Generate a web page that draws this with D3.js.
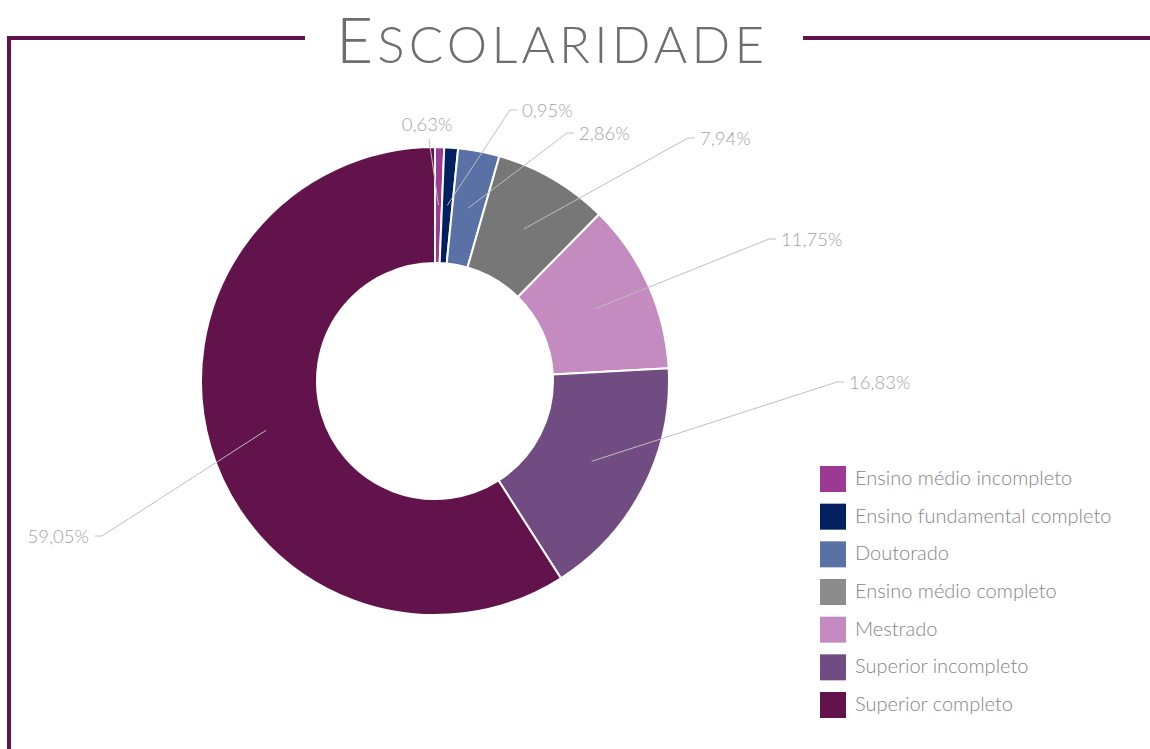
<!DOCTYPE html>
<html>
<head>
<meta charset="utf-8">
<script src="https://cdn.jsdelivr.net/npm/d3@7"></script>
<style>
  body { margin: 0; background: #fff; }
  svg { display: block; font-family: Lato, "Open Sans", sans-serif; }
</style>
</head>
<body>
<svg id="chart" width="1150" height="749"></svg>
<script>
// data, in drawing order (clockwise from 12 o'clock)
var categories = ["Ensino médio incompleto", "Ensino fundamental completo", "Doutorado",
  "Ensino médio completo", "Mestrado", "Superior incompleto", "Superior completo"];
var percents = [0.63, 0.95, 2.86, 7.94, 11.75, 16.83, 59.05];
var labels = ["0,63%", "0,95%", "2,86%", "7,94%", "11,75%", "16,83%", "59,05%"];

var colors = ["#9b3995", "#002060", "#5a71a6", "#777777", "#c48bc0", "#714c82", "#63134b"];
var legendColors = ["#9b3995", "#002060", "#5a71a6", "#8c8c8c", "#c48bc0", "#714c82", "#63134b"];

// where the leader lines end, relative to the centre, and which side the text sits on
var labelEnds = [[-6, -242], [75, -271], [132, -248], [253, -243], [334, -142], [402, 1], [-333, 155]];
var labelSide = ["top", "right", "right", "right", "right", "right", "left"];

var svg = d3.select('#chart');
var frameColor = "#63134b";

// frame lines round the title
svg.append("path")
  .attr("d", "M9,749 V38 H305")
  .style("fill", "none").style("stroke", frameColor).style("stroke-width", 4);
svg.append("line")
  .attr("x1", 803).attr("x2", 1150).attr("y1", 38).attr("y2", 38)
  .style("stroke", frameColor).style("stroke-width", 4);

// title in small caps
var title = svg.append("text")
  .attr("x", 336).attr("y", 63)
  .attr("textLength", 428).attr("lengthAdjust", "spacing")
  .style("fill", "#6e6e6e").style("font-weight", 300);
title.append("tspan").style("font-size", "64px").text("E");
title.append("tspan").style("font-size", "51px").text("SCOLARIDADE");

// donut
var cx = 435, cy = 381, rOuter = 234, rInner = 118;
var g = svg.append("g").attr("transform", "translate(" + cx + "," + cy + ")");

var pie = d3.pie().sort(null).value(function(d) { return d; });
var arcs = pie(percents);
var arc = d3.arc().innerRadius(rInner).outerRadius(rOuter);
var midArc = d3.arc().innerRadius((rInner + rOuter) / 2).outerRadius((rInner + rOuter) / 2);

g.selectAll("path.slice")
  .data(arcs)
  .enter().append("path")
  .attr("class", "slice")
  .attr("d", arc)
  .style("fill", function(d, i) { return colors[i]; })
  .style("stroke", "#fff")
  .style("stroke-width", 2);

// leader lines + labels
arcs.forEach(function(d, i) {
  var start = midArc.centroid(d);
  var end = labelEnds[i];
  var side = labelSide[i];
  var pts = [start, end];
  if (side == "right") pts.push([end[0] + 7, end[1]]);
  if (side == "left") pts.push([end[0] - 7, end[1]]);
  g.append("path")
    .attr("d", d3.line()(pts))
    .style("fill", "none").style("stroke", "#bfbfbf").style("stroke-width", 1);

  var t = g.append("text")
    .style("font-size", "18.5px").style("font-weight", 300)
    .style("fill", "#a3a3a3")
    .text(labels[i]);
  if (side == "right") {
    t.attr("x", end[0] + 12).attr("y", end[1] + 1).attr("dy", "0.35em");
  } else if (side == "left") {
    t.attr("x", end[0] - 13).attr("y", end[1] + 1).attr("dy", "0.35em").attr("text-anchor", "end");
  } else {
    t.attr("x", end[0] - 2).attr("y", end[1] - 8).attr("text-anchor", "middle");
  }
});

// legend
var legendY = d3.scalePoint().domain(categories).range([479, 705]);
var legend = svg.append("g").selectAll("g")
  .data(categories)
  .enter().append("g")
  .attr("transform", function(d) { return "translate(820," + legendY(d) + ")"; });
legend.append("rect")
  .attr("x", 0).attr("y", -13).attr("width", 26).attr("height", 26)
  .style("fill", function(d, i) { return legendColors[i]; });
legend.append("text")
  .attr("x", 35).attr("y", -1).attr("dy", "0.35em")
  .style("font-size", "20px").style("font-weight", 300)
  .style("fill", "#858585")
  .text(function(d) { return d; });
</script>
</body>
</html>
